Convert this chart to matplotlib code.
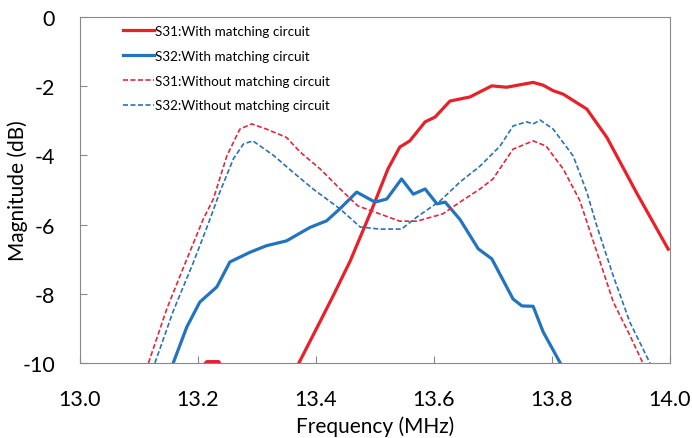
import matplotlib
matplotlib.use("Agg")
import matplotlib.pyplot as plt

plt.rcParams['font.family'] = ['Lato', 'DejaVu Sans']
plt.rcParams['axes.unicode_minus'] = False

# S31 with matching circuit
f_s31_m = [13.18, 13.215, 13.235, 13.26, 13.30, 13.34, 13.371, 13.407, 13.429, 13.458,
           13.495, 13.522, 13.542, 13.559, 13.585, 13.602, 13.627, 13.661, 13.698,
           13.723, 13.768, 13.785, 13.802, 13.819, 13.859, 13.893, 13.944, 13.997]
db_s31_m = [-10.6, -9.96, -9.96, -10.6, -11.0, -10.8, -10.0, -8.8, -8.06, -7.05,
            -5.55, -4.39, -3.76, -3.58, -3.03, -2.89, -2.43, -2.31, -1.99,
            -2.03, -1.89, -1.97, -2.13, -2.23, -2.66, -3.48, -5.1, -6.71]

# S32 with matching circuit
f_s32_m = [13.158, 13.181, 13.203, 13.232, 13.254, 13.288, 13.316, 13.35, 13.39,
           13.418, 13.44, 13.469, 13.5, 13.52, 13.545, 13.565, 13.585, 13.605,
           13.619, 13.644, 13.675, 13.698, 13.734, 13.749, 13.768, 13.785, 13.814]
db_s32_m = [-10.0, -8.96, -8.24, -7.8, -7.08, -6.8, -6.61, -6.47, -6.08,
            -5.89, -5.55, -5.06, -5.35, -5.26, -4.68, -5.12, -4.97, -5.4,
            -5.35, -5.85, -6.7, -6.99, -8.15, -8.35, -8.36, -9.1, -10.0]

# S31 without matching circuit
f_s31_n = [13.116, 13.147, 13.181, 13.209, 13.226, 13.249, 13.271, 13.291, 13.316,
           13.35, 13.373, 13.407, 13.441, 13.471, 13.508, 13.542, 13.571, 13.615,
           13.644, 13.678, 13.7, 13.734, 13.768, 13.79, 13.819, 13.847, 13.876,
           13.904, 13.932, 13.954]
db_s31_n = [-10.0, -8.44, -7.0, -5.84, -5.26, -4.01, -3.24, -3.09, -3.24,
            -3.48, -3.9, -4.39, -4.97, -5.46, -5.69, -5.9, -5.9, -5.69,
            -5.35, -4.97, -4.68, -3.82, -3.58, -3.73, -4.39, -5.3, -6.79,
            -8.24, -9.2, -10.0]

# S32 without matching circuit
f_s32_n = [13.127, 13.158, 13.192, 13.218, 13.237, 13.26, 13.277, 13.293, 13.328,
           13.362, 13.395, 13.441, 13.475, 13.508, 13.545, 13.571, 13.61, 13.644,
           13.678, 13.712, 13.734, 13.757, 13.768, 13.78, 13.802, 13.836, 13.859,
           13.876, 13.904, 13.932, 13.966]
db_s32_n = [-10.0, -8.5, -7.1, -5.95, -5.06, -4.1, -3.67, -3.58, -4.0,
            -4.5, -4.97, -5.55, -6.07, -6.13, -6.13, -5.78, -5.32, -4.77,
            -4.31, -3.73, -3.15, -3.03, -3.09, -2.98, -3.24, -4.02, -5.06,
            -6.04, -7.49, -8.82, -10.0]

red = '#e8202a'
blue = '#2274c0'

fig = plt.figure(figsize=(6.92, 4.39), dpi=100)
ax = fig.add_axes([0.1156, 0.1708, 0.8526, 0.7882])

ax.plot(f_s31_m, db_s31_m, color=red, lw=2.3, label='S31:With matching circuit')
ax.plot(f_s32_m, db_s32_m, color=blue, lw=2.3, label='S32:With matching circuit')
ax.plot(f_s31_n, db_s31_n, color='#e0283c', lw=1.2, ls=(0, (3, 1.5)),
        label='S31:Without matching circuit')
ax.plot(f_s32_n, db_s32_n, color='#2a72b0', lw=1.2, ls=(0, (3, 1.5)),
        label='S32:Without matching circuit')

ax.set_xlim(13.0, 14.0)
ax.set_ylim(-10, 0)
ax.set_xticks([13.0, 13.2, 13.4, 13.6, 13.8, 14.0])
ax.set_xticklabels(['13.0', '13.2', '13.4', '13.6', '13.8', '14.0'])
ax.set_yticks([0, -2, -4, -6, -8, -10])
ax.tick_params(direction='in', color='#888888', length=5, labelsize=15.5)
ax.tick_params(axis='x', pad=19)
ax.tick_params(axis='y', pad=18)
for s in ax.spines.values():
    s.set_color('#888888')

ax.set_xlabel('Frequency (MHz)', fontsize=15, labelpad=4)
ax.set_ylabel('Magnitude (dB)', fontsize=15)
ax.yaxis.set_label_coords(-0.088, 0.5)

leg = ax.legend(loc='upper left', bbox_to_anchor=(0.052, 1.012), frameon=False,
                fontsize=9.7, handlelength=2.3, handletextpad=0.1, labelspacing=0.95)

fig.savefig('out.png', dpi=100)
